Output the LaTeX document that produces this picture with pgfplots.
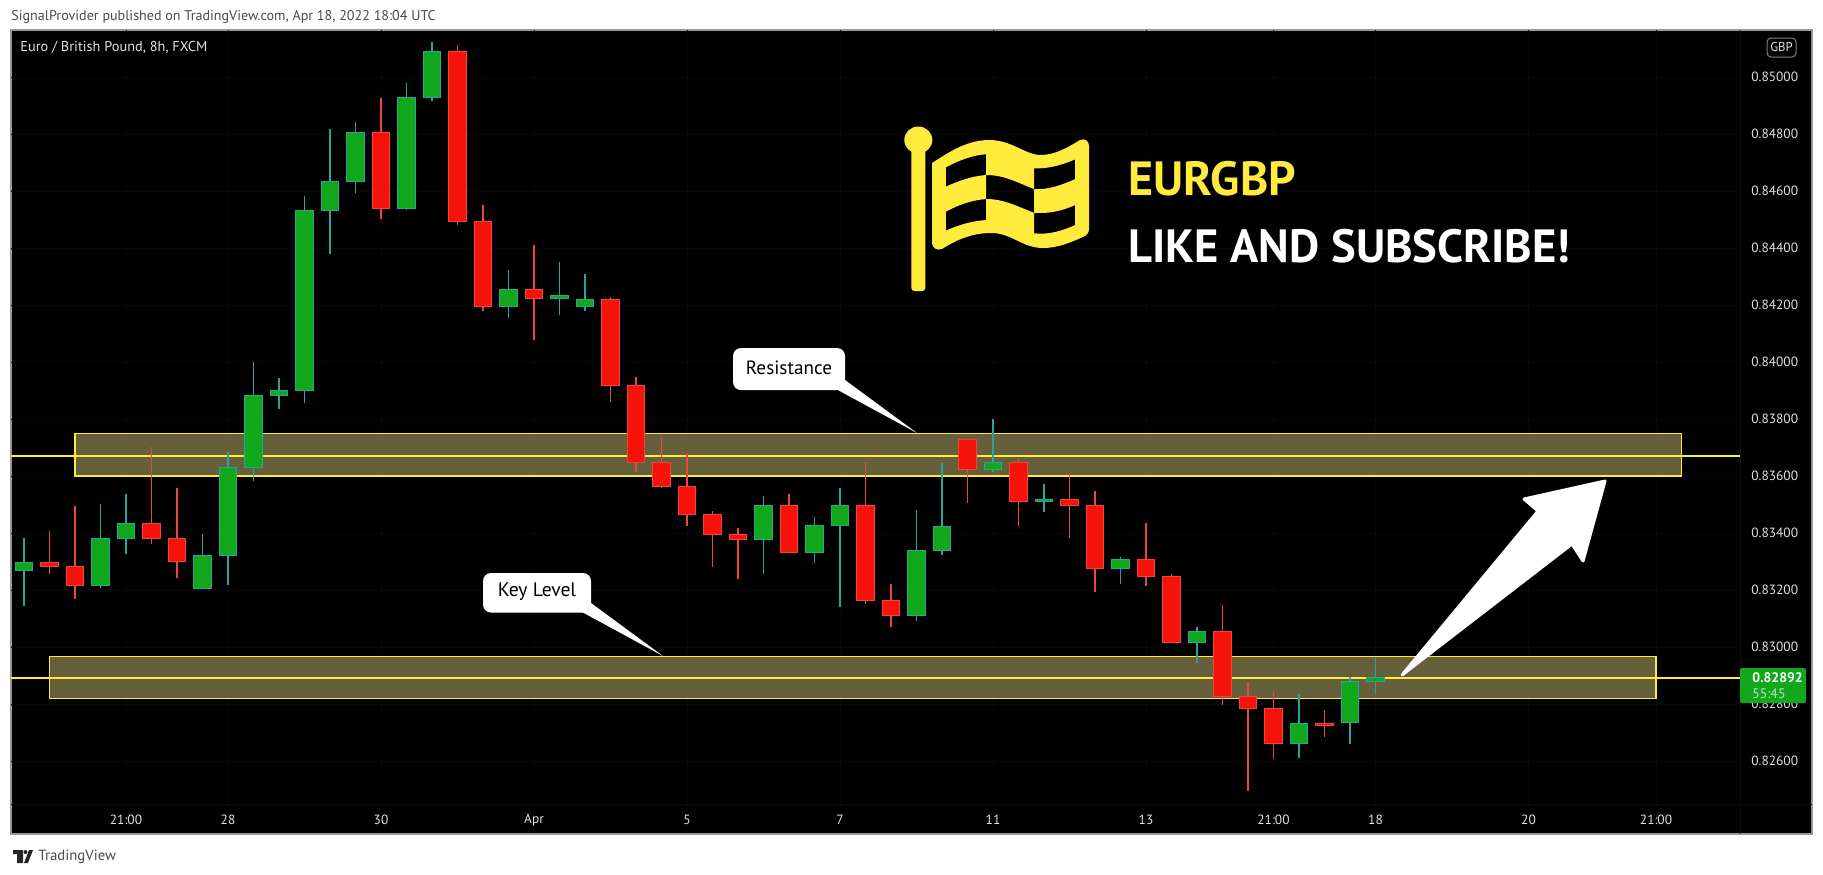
\documentclass[border=0pt]{standalone}
\usepackage{fontspec}
\setmainfont{PT Sans}
\usepackage{pgfplots}
\pgfplotsset{compat=1.18}

\definecolor{upfill}{HTML}{11A81B}
\definecolor{upline}{HTML}{26A69A}
\definecolor{dnfill}{HTML}{F8130A}
\definecolor{dnline}{HTML}{F0453A}
\definecolor{lvl}{HTML}{FFEB3B}
\definecolor{band}{HTML}{665F3B}
\definecolor{ticktxt}{HTML}{DFE1E6}
\definecolor{headtxt}{HTML}{4A4A4A}

\newcommand\fs[1]{\fontsize{#1}{#1}\selectfont}

% candle: colour pair, index, low, body bottom, body top, high
\newcommand\candle[7]{%
  \pgfmathsetmacro\xa{#3-0.345}\pgfmathsetmacro\xb{#3+0.345}%
  \addplot[color=#1,line width=0.55pt] coordinates {(#3,#4)(#3,#7)};
  \addplot[draw=#1,fill=#2,line width=0.55pt] coordinates {(\xa,#5)(\xb,#5)(\xb,#6)(\xa,#6)} -- cycle;
}
\newcommand\up[5]{\candle{upline}{upfill}{#1}{#2}{#3}{#4}{#5}}
\newcommand\dn[5]{\candle{dnline}{dnfill}{#1}{#2}{#3}{#4}{#5}}

\begin{document}
\begin{tikzpicture}
\begin{scope}[x=0.5pt,y=-0.5pt]
  \fill[white] (0,0) rectangle (1823,874);
  \fill[black] (11,30) rectangle (1812,834);
  \draw[color=gray!80,line width=0.6pt] (11,30) rectangle (1812,834);
  \draw[color=black!95!white,line width=0.5pt] (1740,30) -- (1740,834) (11,804) -- (1812,804);
  \node[anchor=west,inner sep=0,text=headtxt] at (11,17) {\fs{7.05pt}SignalProvider published on TradingView.com, Apr 18, 2022 18:04 UTC};
\end{scope}

\begin{axis}[
  at={(5.5pt,-402pt)}, anchor=south west,
  scale only axis, width=864.5pt, height=387pt,
  xmin=-0.5098, xmax=67.294,
  ymin=0.824491, ymax=0.851649,
  axis line style={draw=none},
  major tick length=0pt,
  ytick={0.826,0.828,0.83,0.832,0.834,0.836,0.838,0.84,0.842,0.844,0.846,0.848,0.85},
  xtick={4,8,14,20,26,32,38,44,49,53,59,64},
  xticklabels={21:00,28,30,Apr,5,7,11,13,21:00,18,20,21:00},
  yticklabel pos=right,
  /pgf/number format/assume math mode=true,
  /pgf/number format/fixed,
  /pgf/number format/fixed zerofill,
  /pgf/number format/precision=5,
  scaled y ticks=false,
  grid=major,
  grid style={color=black!97!white,line width=0.4pt},
  tick label style={text=ticktxt,font=\fs{6.7pt},inner sep=0pt},
  yticklabel style={anchor=west,xshift=5.5pt},
  xticklabel style={anchor=center,yshift=-8pt},
]
% zones and levels
\addplot[fill=band,draw=lvl,line width=0.6pt] coordinates {(2,0.83600)(65,0.83600)(65,0.83750)(2,0.83750)} -- cycle;
\addplot[fill=band,draw=lvl,line width=0.6pt] coordinates {(1,0.82820)(64,0.82820)(64,0.82967)(1,0.82967)} -- cycle;
\addplot[color=lvl,line width=0.85pt] coordinates {(-0.5098,0.83671)(67.294,0.83671)};
\addplot[color=lvl,line width=0.85pt] coordinates {(-0.5098,0.82892)(67.294,0.82892)};

\up{0}{0.83144}{0.83268}{0.83297}{0.83381}
\dn{1}{0.83256}{0.83282}{0.83297}{0.83407}
\dn{2}{0.83168}{0.83215}{0.83283}{0.83495}
\up{3}{0.83208}{0.83215}{0.83381}{0.83502}
\up{4}{0.83326}{0.83380}{0.83434}{0.83537}
\dn{5}{0.83362}{0.83380}{0.83434}{0.83702}
\dn{6}{0.83243}{0.83299}{0.83381}{0.83558}
\up{7}{0.83205}{0.83205}{0.83322}{0.83396}
\up{8}{0.83218}{0.83320}{0.83631}{0.83684}
\up{9}{0.83582}{0.83631}{0.83883}{0.84000}
\up{10}{0.83836}{0.83882}{0.83901}{0.83944}
\up{11}{0.83857}{0.83901}{0.84532}{0.84583}
\up{12}{0.84379}{0.84531}{0.84634}{0.84818}
\up{13}{0.84594}{0.84634}{0.84806}{0.84842}
\dn{14}{0.84503}{0.84538}{0.84806}{0.84926}
\up{15}{0.84534}{0.84538}{0.84929}{0.84978}
\up{16}{0.84917}{0.84927}{0.85090}{0.85123}
\dn{17}{0.84481}{0.84492}{0.85090}{0.85112}
\dn{18}{0.84180}{0.84194}{0.84494}{0.84551}
\up{19}{0.84155}{0.84194}{0.84255}{0.84323}
\dn{20}{0.84078}{0.84222}{0.84255}{0.84411}
\up{21}{0.84165}{0.84222}{0.84232}{0.84351}
\up{22}{0.84180}{0.84194}{0.84220}{0.84309}
\dn{23}{0.83861}{0.83918}{0.84220}{0.84227}
\dn{24}{0.83615}{0.83648}{0.83918}{0.83946}
\dn{25}{0.83559}{0.83562}{0.83648}{0.83736}
\dn{26}{0.83425}{0.83464}{0.83564}{0.83680}
\dn{27}{0.83281}{0.83394}{0.83466}{0.83477}
\dn{28}{0.83239}{0.83376}{0.83395}{0.83418}
\up{29}{0.83256}{0.83376}{0.83497}{0.83530}
\dn{30}{0.83331}{0.83331}{0.83497}{0.83537}
\up{31}{0.83295}{0.83331}{0.83427}{0.83456}
\up{32}{0.83141}{0.83426}{0.83497}{0.83558}
\dn{33}{0.83152}{0.83162}{0.83497}{0.83649}
\dn{34}{0.83071}{0.83110}{0.83164}{0.83221}
\up{35}{0.83092}{0.83110}{0.83339}{0.83481}
\up{36}{0.83324}{0.83338}{0.83424}{0.83646}
\dn{37}{0.83506}{0.83624}{0.83729}{0.83729}
\up{38}{0.83615}{0.83624}{0.83648}{0.83800}
\dn{39}{0.83426}{0.83510}{0.83648}{0.83663}
\up{40}{0.83474}{0.83510}{0.83518}{0.83572}
\dn{41}{0.83384}{0.83497}{0.83518}{0.83607}
\dn{42}{0.83194}{0.83275}{0.83497}{0.83547}
\up{43}{0.83221}{0.83275}{0.83308}{0.83316}
\dn{44}{0.83215}{0.83247}{0.83308}{0.83435}
\dn{45}{0.83015}{0.83015}{0.83248}{0.83256}
\up{46}{0.82945}{0.83015}{0.83055}{0.83070}
\dn{47}{0.82796}{0.82826}{0.83055}{0.83147}
\dn{48}{0.82495}{0.82784}{0.82827}{0.82877}
\dn{49}{0.82607}{0.82661}{0.82785}{0.82842}
\up{50}{0.82611}{0.82661}{0.82732}{0.82835}
\dn{51}{0.82684}{0.82724}{0.82732}{0.82779}
\up{52}{0.82660}{0.82734}{0.82880}{0.82895}
\up{53}{0.82832}{0.82880}{0.82892}{0.82965}
\end{axis}

\begin{scope}[x=0.5pt,y=-0.5pt]
  \node[anchor=west,inner sep=0,text=ticktxt] at (20,47) {\fs{7.15pt}Euro / British Pound, 8h, FXCM};
  \draw[color=gray,line width=0.5pt,rounded corners=2pt] (1767,38) rectangle (1796,57);
  \node[inner sep=0,text=ticktxt] at (1781.5,47.5) {\fs{6.4pt}GBP};

  % price tag
  \fill[upfill,rounded corners=1pt] (1740,668) rectangle (1806,703);
  \node[anchor=west,inner sep=0,text=white] at (1752,678) {\fs{6.9pt}\bfseries 0.82892};
  \node[anchor=west,inner sep=0,text=white!70!upfill] at (1752,694) {\fs{6.9pt}55:45};

  % callouts
  \fill[white,rounded corners=4pt] (733,348) rectangle (845,390);
  \fill[white] (836,389) -- (845,380) -- (917,433) -- cycle;
  \node[text=black,inner sep=0] at (789,368) {\fs{9.6pt}Resistance};
  \fill[white,rounded corners=4pt] (483,573) rectangle (591,612.5);
  \fill[white] (582,612) -- (591,603) -- (663,656) -- cycle;
  \node[text=black,inner sep=0] at (537,592) {\fs{9.8pt}Key Level};

  % arrow
  \filldraw[white,line width=1.5pt,line join=round]
    (1402,675) -- (1538,511) -- (1524,499) -- (1605,481) -- (1583,561) -- (1572,544) -- cycle;

  % flag
  \fill[lvl,rounded corners=1.5pt] (911.4,140) rectangle (925.3,291);
  \fill[lvl] (918.3,140) ellipse [x radius=14,y radius=13.5];
  \fill[lvl,even odd rule,line join=round]
    (932,163) .. controls (945,155) and (965,140) .. (989,140)
      .. controls (1012,140) and (1025,155) .. (1041,155)
      .. controls (1056,155) and (1070,146) .. (1080,140)
      .. controls (1085,138) and (1089,141) .. (1089,146)
      -- (1089,229) .. controls (1089,233) and (1087,234) .. (1085,236)
      .. controls (1072,242) and (1058,248) .. (1043,248)
      .. controls (1022,248) and (1012,233) .. (991,233)
      .. controls (972,233) and (956,240) .. (942,249)
      .. controls (937,251) and (932,248) .. (932,243) -- cycle
    (945.8,167.3) .. controls (958,161) and (972,155) .. (986.2,154.3)
      -- (986.2,175) .. controls (972,176) and (958,181) .. (945.8,186.7) -- cycle
    (945.8,211.7) .. controls (958,205) and (972,200) .. (986.2,199)
      -- (986.2,220) .. controls (972,221) and (958,225) .. (945.8,230.7) -- cycle
    (986.2,175) .. controls (1005,175) and (1018,183) .. (1034,189)
      -- (1034,212.7) .. controls (1018,207) and (1005,199) .. (986.2,199) -- cycle
    (1034,168.3) .. controls (1048,169) and (1062,165) .. (1075.2,159.3)
      -- (1075.2,179) .. controls (1062,185) and (1048,190) .. (1034,189) -- cycle
    (1034,212.7) .. controls (1048,214) and (1062,211) .. (1075.2,205)
      -- (1075.2,225) .. controls (1062,231) and (1048,235) .. (1034,233.3) -- cycle;

  % big text
  \node[anchor=base west,inner sep=0,text=lvl] at (1128,195) {\fs{24pt}\bfseries EURGBP};
  \node[anchor=base west,inner sep=0,text=white] at (1128,262) {\fs{23.3pt}\bfseries LIKE AND SUBSCRIBE!};

  % footer
  \fill[black!85] (13,850) rectangle (23,854) (17,854) rectangle (23,863);
  \fill[black!85] (25.5,852) circle [radius=2];
  \fill[black!85] (29,850) -- (33,850) -- (28,863) -- (24,863) -- cycle;
  \node[anchor=west,inner sep=0,text=headtxt] at (38,857) {\fs{7.4pt}TradingView};
\end{scope}
\end{tikzpicture}
\end{document}
